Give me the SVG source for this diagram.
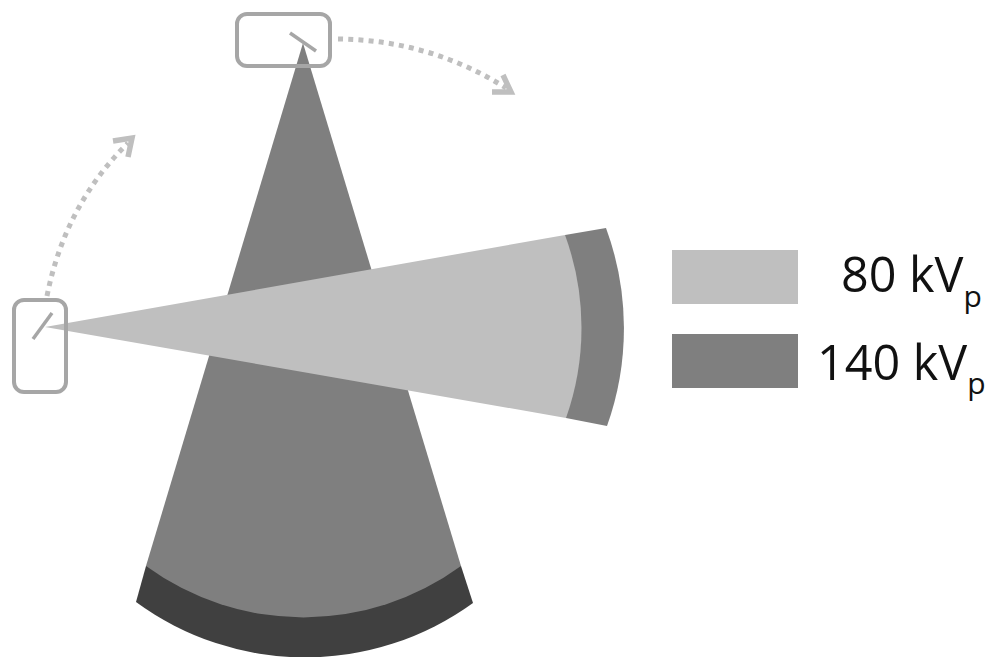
<svg xmlns="http://www.w3.org/2000/svg" width="989" height="657" viewBox="0 0 989 657">
<style>
.light{fill:#bfbfbf}
.mid{fill:#7f7f7f}
.dark{fill:#404040}
.box{fill:none;stroke:#a6a6a6;stroke-width:4}
.tube{fill:none;stroke:#a6a6a6;stroke-width:3.5}
.path{fill:none;stroke:#bfbfbf;stroke-width:5;stroke-dasharray:5 5.2}
.head{fill:none;stroke:#bfbfbf;stroke-width:5.5}
.lab{font-family:"Open Sans","Noto Sans",sans-serif;font-size:48.5px;fill:#111}
.sub{font-size:30px}
</style>
<rect width="989" height="657" fill="#fff"/>
<g id="beam-140-vertical">
<path class="dark" d="M146 566L136 602A286 286 0 0 0 473 603L461 566Z"/>
<path class="mid" d="M303 43L146 566A267 267 0 0 0 461 566Z"/>
</g>
<g id="beam-horizontal">
<path class="mid" d="M565 235L606 228A290 290 0 0 1 607 426L566 418Z"/>
<path class="light" d="M45 327L565 235A270 270 0 0 1 566 418Z"/>
</g>
<g id="source-top">
<rect class="box" x="237" y="14" width="93" height="52" rx="10"/>
<line class="tube" x1="290" y1="33" x2="316" y2="51"/>
</g>
<g id="source-left">
<rect class="box" x="14" y="300" width="52" height="92" rx="10"/>
<line class="tube" x1="52" y1="313" x2="33" y2="339"/>
</g>
<g id="connectors">
<path class="path" d="M338 39Q430 40 506 88"/>
<path class="head" d="M503 75L511 92L492 92"/>
<path class="path" d="M47 296Q65 205 128 143"/>
<path class="head" d="M113 141L132 138L128 157"/>
</g>
<g id="legend-80">
<rect class="light" x="672" y="250" width="126" height="54"/>
<text class="lab" x="841" y="292">80 kV<tspan class="sub" dy="15">p</tspan></text>
</g>
<g id="legend-140">
<rect class="mid" x="672" y="334" width="126" height="54"/>
<text class="lab" x="817" y="380">140 kV<tspan class="sub" dy="14">p</tspan></text>
</g>
</svg>
